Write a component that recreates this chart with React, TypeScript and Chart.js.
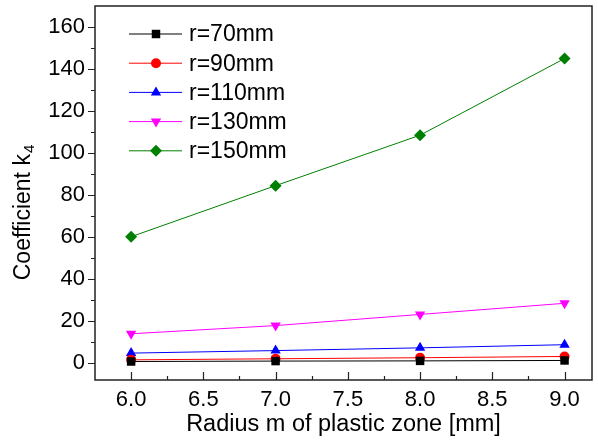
import React, { useEffect, useRef } from "react";
import { Chart, registerables } from "chart.js";

Chart.register(...registerables);

const xValues = [6.0, 7.0, 8.0, 9.0];
const r70 = [0.8, 1.0, 1.1, 1.3];
const r90 = [1.6, 2.1, 2.6, 3.2];
const r110 = [4.8, 6.0, 7.3, 8.8];
const r130 = [14.0, 17.9, 23.2, 28.5];
const r150 = [60.2, 84.5, 108.5, 145.0];

const seriesLabels = ["r=70mm", "r=90mm", "r=110mm", "r=130mm", "r=150mm"];
const seriesColors = ["#000000", "#ff0000", "#0000ff", "#ff00ff", "#008000"];
const seriesShapes = ["rect", "circle", "triangle", "triangleDown", "rectRot"];
const seriesRadii = [6, 5, 6, 6, 6];

const xTicks = [6.0, 6.5, 7.0, 7.5, 8.0, 8.5, 9.0];
const xMinorTicks = [6.25, 6.75, 7.25, 7.75, 8.25, 8.75];
const yTicks = [0, 20, 40, 60, 80, 100, 120, 140, 160];
const yMinorTicks = [10, 30, 50, 70, 90, 110, 130, 150];

const FONT = "'Liberation Sans', Arial, sans-serif";

function drawMarker(ctx: CanvasRenderingContext2D, shape: string, x: number, y: number, r: number, color: string) {
  ctx.save();
  ctx.fillStyle = color;
  ctx.beginPath();
  if (shape === "rect") {
    const s = Math.SQRT1_2 * r;
    ctx.rect(x - s, y - s, 2 * s, 2 * s);
  } else if (shape === "circle") {
    ctx.arc(x, y, r, 0, Math.PI * 2);
  } else if (shape === "triangle" || shape === "triangleDown") {
    const rot = shape === "triangle" ? 0 : Math.PI;
    for (let k = 0; k < 3; k++) {
      const a = rot + (k * 2 * Math.PI) / 3;
      const px = x + Math.sin(a) * r;
      const py = y - Math.cos(a) * r;
      if (k === 0) ctx.moveTo(px, py);
      else ctx.lineTo(px, py);
    }
    ctx.closePath();
  } else if (shape === "rectRot") {
    ctx.moveTo(x, y - r);
    ctx.lineTo(x + r, y);
    ctx.lineTo(x, y + r);
    ctx.lineTo(x - r, y);
    ctx.closePath();
  }
  ctx.fill();
  ctx.restore();
}

const decorPlugin = {
  id: "decor",
  afterDraw(chart: any) {
    const { ctx, chartArea } = chart;
    const { left, right, top, bottom } = chartArea;
    const xs = chart.scales.x;
    const ys = chart.scales.y;
    ctx.save();
    // frame
    ctx.strokeStyle = "#222";
    ctx.lineWidth = 1.5;
    ctx.strokeRect(left, top, right - left, bottom - top);
    ctx.lineWidth = 1.2;
    ctx.beginPath();
    // y ticks outward
    yTicks.forEach((v) => {
      const p = Math.round(ys.getPixelForValue(v)) + 0.5;
      ctx.moveTo(left, p);
      ctx.lineTo(left - 7, p);
    });
    yMinorTicks.forEach((v) => {
      const p = Math.round(ys.getPixelForValue(v)) + 0.5;
      ctx.moveTo(left, p);
      ctx.lineTo(left - 4, p);
    });
    // x ticks inward
    xTicks.forEach((v) => {
      const p = Math.round(xs.getPixelForValue(v)) + 0.5;
      ctx.moveTo(p, bottom);
      ctx.lineTo(p, bottom - 8);
    });
    xMinorTicks.forEach((v) => {
      const p = Math.round(xs.getPixelForValue(v)) + 0.5;
      ctx.moveTo(p, bottom);
      ctx.lineTo(p, bottom - 4);
    });
    ctx.stroke();

    // y title with subscript
    ctx.save();
    ctx.translate(24, 213);
    ctx.rotate(-Math.PI / 2);
    ctx.fillStyle = "#000";
    ctx.textBaseline = "middle";
    ctx.textAlign = "left";
    const mainFont = `23px ${FONT}`;
    const subFont = `15px ${FONT}`;
    ctx.font = mainFont;
    const mainText = "Coefficient k";
    const w1 = ctx.measureText(mainText).width;
    ctx.font = subFont;
    const w2 = ctx.measureText("4").width;
    const x0 = -(w1 + w2) / 2;
    ctx.font = mainFont;
    ctx.fillText(mainText, x0, 0);
    ctx.font = subFont;
    ctx.fillText("4", x0 + w1 + 1, 6);
    ctx.restore();

    // legend
    chart.data.datasets.forEach((ds: any, i: number) => {
      const ly = 34 + i * 29.2;
      ctx.strokeStyle = ds.borderColor;
      ctx.lineWidth = 1;
      ctx.beginPath();
      ctx.moveTo(129, ly);
      ctx.lineTo(182, ly);
      ctx.stroke();
      drawMarker(ctx, seriesShapes[i], 156, ly, seriesRadii[i], ds.borderColor);
      ctx.fillStyle = "#000";
      ctx.font = `23px ${FONT}`;
      ctx.textBaseline = "middle";
      ctx.textAlign = "left";
      ctx.fillText(ds.label, 189, ly + 1);
    });
    ctx.restore();
  },
};

function zeroPad(s: any) {
  s.paddingTop = 0;
  s.paddingBottom = 0;
  s.paddingLeft = 0;
  s.paddingRight = 0;
}

export default function App() {
  const canvasRef = useRef<HTMLCanvasElement | null>(null);

  useEffect(() => {
    if (!canvasRef.current) return;
    const all = [r70, r90, r110, r130, r150];
    const datasets = all.map((vals, i) => {
      const shape = seriesShapes[i];
      return {
        label: seriesLabels[i],
        data: vals.map((v, j) => ({ x: xValues[j], y: v })),
        borderColor: seriesColors[i],
        backgroundColor: seriesColors[i],
        borderWidth: 1,
        pointStyle: shape === "triangleDown" ? "triangle" : shape,
        pointRotation: shape === "triangleDown" ? 180 : 0,
        pointRadius: seriesRadii[i],
        pointBorderWidth: 0,
        pointBackgroundColor: seriesColors[i],
        tension: 0,
        fill: false,
      };
    });
    const chart = new Chart(canvasRef.current, {
      type: "line",
      data: { datasets } as any,
      options: {
        animation: false,
        responsive: false,
        devicePixelRatio: 1,
        layout: { padding: { top: 4, right: 1, left: 0, bottom: 0 } },
        plugins: { legend: { display: false }, tooltip: { enabled: false } },
        scales: {
          x: {
            type: "linear",
            min: 5.75,
            max: 9.19,
            grid: { display: false, drawTicks: false },
            border: { display: false },
            afterBuildTicks: (s: any) => {
              s.ticks = xTicks.map((v) => ({ value: v }));
            },
            afterFit: (s: any) => {
              s.height = 62;
              zeroPad(s);
            },
            ticks: {
              padding: 7,
              color: "#000",
              font: { family: FONT, size: 22 },
              maxRotation: 0,
              autoSkip: false,
              callback: (v: any) => Number(v).toFixed(1),
            },
            title: {
              display: true,
              text: "Radius m of plastic zone [mm]",
              color: "#000",
              font: { family: FONT, size: 23.5 },
              padding: { top: 0, bottom: 3 },
            },
          },
          y: {
            type: "linear",
            min: -8,
            max: 170,
            grid: { display: false, drawTicks: false },
            border: { display: false },
            afterBuildTicks: (s: any) => {
              s.ticks = yTicks.map((v) => ({ value: v }));
            },
            afterFit: (s: any) => {
              s.width = 95;
              zeroPad(s);
            },
            ticks: {
              padding: 10,
              color: "#000",
              autoSkip: false,
              font: { family: FONT, size: 22 },
              callback: (v: any) => String(v),
            },
          },
        },
      } as any,
      plugins: [decorPlugin],
    });
    return () => chart.destroy();
  }, []);

  return (
    <div style={{ position: "fixed", left: 0, top: 0, width: 598, height: 442, background: "#fff" }}>
      <canvas ref={canvasRef} width={598} height={442} />
    </div>
  );
}
